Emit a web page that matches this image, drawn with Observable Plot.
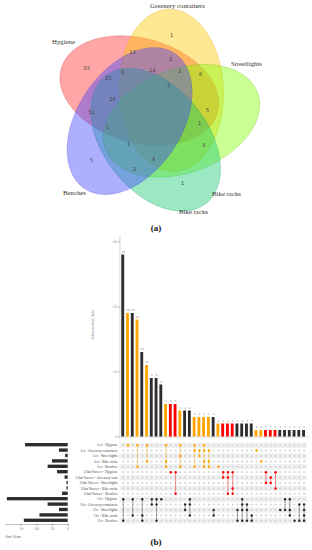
<!DOCTYPE html>
<html><head><meta charset="utf-8">
<script src="https://cdn.jsdelivr.net/npm/d3@7"></script>
<script src="https://cdn.jsdelivr.net/npm/@observablehq/plot@0.6"></script>
<style>
html,body{margin:0;padding:0;background:#fff;}
#root{position:relative;width:312px;height:550px;overflow:hidden;background:#fff;}
#root svg{position:absolute;left:0;}
.cap{position:absolute;left:0;width:312px;text-align:center;font-family:"Liberation Serif",serif;font-weight:bold;font-size:9px;color:#111;z-index:5;}
</style></head><body><div id="root"></div>
<script>
// ---------- DATA ----------
// Venn (a)
const vennSets = ["Hygiene", "Greenery containers", "Streetlights", "Bike racks", "Benches"];
const vennTitles = ["Hygiene", "Greenery containers", "Streetlights", "Bike racks", "Bike racks", "Benches"];
const vennCounts = [33, 13, 1, 2, 2, 6, 14, 8, 25, 1, 26, 51, 5, 1, 1, 1, 3, 5, 4, 2, 1];

// UpSet (b)
const setNames = [
  "1ex - Hygiene", "1ex - Greenery containers", "1ex - Streetlights", "1ex - Bike racks", "1ex - Benches",
  "2.6m Vaceev - Hygiene", "2.6m Vaceev - Greenery cont", "2.6m Vaceev - Streetlights", "2.6m Vaceev - Bike racks", "2.6m Vaceev - Benches",
  "11x - Hygiene", "11x - Greenery containers", "11x - Streetlights", "11x - Bike racks", "11x - Benches"
];
const setSizes = [68, 14, 4, 25, 32, 17, 5, 2, 2, 9, 97, 32, 14, 45, 70];
const interValues = [28, 19, 19, 18, 13, 11, 9, 9, 8, 5, 5, 5, 4, 4, 4, 3, 3, 3, 3, 3, 2, 2, 2, 2, 2, 2, 2, 2, 1, 1, 1, 1, 1, 1, 1, 1, 1, 1, 1];
const interGroups = ["K","O","K","O","K","O","K","K","K","O","R","R","O","K","K","O","O","O","O","K","O","R","R","R","K","K","K","K","O","O","R","R","R","K","K","K","K","K","K"];
const interSets = [
  [11,15],[1],[11,14],[1,5],[11,14,15],[1,4],[11,12],[11,12,15],[11],[1,4,5],
  [6],[6,10],[1,3,5],[12,13],[11,12,14],[1,2,5],[2,3],[1,2,4,5],[2,4,5],[13,14],
  [5],[6,7],[6,7,10],[6,9,10],[13,15],[11,12,13,15],[12,13,15],[14,15],[2],[4],
  [6,8],[7,8],[6,9],[13],[11,13],[11,13,14],[15],[12,15],[12,13,14,15]
];
const yTicks = [0, 10, 20, 30];
const sizeTicks = [75, 50, 25, 0];

// ---------- LAYOUT / STYLE ----------
const groupColor = {K: "#2d2d2d", O: "#FFA500", R: "#FF0000"};
const vennFill = ["#FF2a2a", "#FFC800", "#80FF00", "#14c870", "#4040FF"];
const vennStroke = ["#d04040", "#d8a800", "#70c020", "#20a060", "#5050d0"];
// label anchors inside the Venn drawing frame (px)
const vennCountAnchors = [[86,68],[132,52],[171,35],[170,59],[179,71],[200,74],[152,70],[122,72],[108,78],[168,85],[112,99],[91,112],[207,110],[199,123],[107,127],[128,144],[203,145],[91,160],[153,159],[134,169],[182,183]];
const vennTitleAnchors = [[63,41],[177,5],[246,63],[226,193],[193,211],[74,192]];

const root = document.getElementById("root");
function place(el, top) { el.style.top = top + "px"; root.appendChild(el); }
const transparent = {background: "transparent", overflow: "visible"};

// ---------- (a) VENN ----------
const C = [155, 112], RH = 104, RT = 62, B = 52, OFF = 155, TH0 = 205;
function ellipse(k) {
  const th = (TH0 + 72 * k) * Math.PI / 180, tt = th + OFF * Math.PI / 180;
  const p1 = [C[0] + RH * Math.cos(th), C[1] + RH * Math.sin(th)];
  const p2 = [C[0] + RT * Math.cos(tt), C[1] + RT * Math.sin(tt)];
  const m = [(p1[0] + p2[0]) / 2, (p1[1] + p2[1]) / 2];
  const a = Math.hypot(p1[0] - p2[0], p1[1] - p2[1]) / 2;
  const phi = Math.atan2(p1[1] - p2[1], p1[0] - p2[0]);
  return d3.range(0, 144).map(j => {
    const t = j / 144 * 2 * Math.PI, ex = a * Math.cos(t), ey = B * Math.sin(t);
    return {x: m[0] + ex * Math.cos(phi) - ey * Math.sin(phi), y: m[1] + ex * Math.sin(phi) + ey * Math.cos(phi)};
  });
}
const vennA = Plot.plot({
  width: 312, height: 222, margin: 0,
  style: transparent,
  x: {domain: [0, 312], range: [0, 312], axis: null},
  y: {domain: [0, 222], range: [0, 222], axis: null},
  marks: [
    ...vennSets.map((s, k) => Plot.line(ellipse(k), {x: "x", y: "y", curve: "linear-closed", fill: vennFill[k], fillOpacity: 0.42, stroke: vennStroke[k], strokeOpacity: 0.55, strokeWidth: 0.6})),
    Plot.text(vennCounts.map((v, i) => ({v, x: vennCountAnchors[i][0], y: vennCountAnchors[i][1]})),
      {x: "x", y: "y", text: "v", fontSize: 5, fill: "#444", fontFamily: "DejaVu Sans, sans-serif"}),
    Plot.text(vennTitles.map((t, i) => ({t, x: vennTitleAnchors[i][0], y: vennTitleAnchors[i][1]})),
      {x: "x", y: "y", text: "t", fontSize: 6.8, fill: "#333", fontFamily: "Liberation Serif, serif"})
  ]
});
place(vennA, 0);

const capA = document.createElement("div"); capA.className = "cap"; capA.textContent = "(a)"; capA.style.top = "223px"; root.appendChild(capA);

// ---------- (b) UPSET ----------
const cols = interValues.map((v, i) => ({i: i + 1, v, g: interGroups[i], rows: interSets[i]}));
const xScale = {domain: [0.3, 39.7], axis: null};

const bars = Plot.plot({
  width: 312, height: 212, marginLeft: 119.4, marginRight: 5.1, marginTop: 11.5, marginBottom: 5.5,
  style: transparent,
  x: xScale,
  y: {domain: [0, 30]},
  color: {type: "identity"},
  marks: [
    Plot.ruleY([0], {x1: 0.0, x2: 40.3, stroke: "#bbb", strokeWidth: 0.6}),
    Plot.ruleX([0.3], {y1: 0, y2: 30.9, stroke: "#bbb", strokeWidth: 0.6}),
    Plot.axisY({ticks: yTicks, tickSize: 1.5, tickPadding: 1.5, fontSize: 3.5, color: "#999", label: null, fontFamily: "DejaVu Sans, sans-serif"}),
    Plot.rectY(cols, {x1: d => d.i - 0.3, x2: d => d.i + 0.3, y1: 0, y2: "v", fill: d => groupColor[d.g]}),
    Plot.text(cols, {x: "i", y: "v", text: "v", dy: -2.2, lineAnchor: "bottom", fontSize: 2.6, fill: "#777", fontFamily: "DejaVu Sans, sans-serif"}),
    Plot.text(["Intersection Size"], {frameAnchor: "left", dx: -27, rotate: -90, fontSize: 3.6, fill: "#888", fontFamily: "DejaVu Sans, sans-serif"})
  ]
});
place(bars, 230);

// set sizes
const setData = setSizes.map((s, k) => ({row: k + 1, s}));
const sizes = Plot.plot({
  width: 72, height: 104, marginLeft: 5, marginRight: 4.3, marginTop: 0, marginBottom: 20,
  style: transparent,
  x: {domain: [100, 0], range: [5, 67.7]},
  y: {domain: [1, 15], range: [4.7, 80.3], axis: null},
  marks: [
    Plot.frame({anchor: "bottom", stroke: "#999", strokeWidth: 0.6}),
    Plot.rectX(setData, {x1: 0, x2: "s", y1: d => d.row - 0.31, y2: d => d.row + 0.31, fill: "#2d2d2d"}),
    Plot.axisX({ticks: sizeTicks, tickSize: 1.5, tickPadding: 1, fontSize: 3.5, color: "#777", label: null, fontFamily: "DejaVu Sans, sans-serif"}),
    Plot.text(["Set Size"], {frameAnchor: "bottom-left", dy: 13, textAnchor: "start", fontSize: 3.8, fill: "#555", fontFamily: "DejaVu Sans, sans-serif"})
  ]
});
place(sizes, 440);

// matrix
const allDots = [];
for (const c of cols) for (let r = 1; r <= 15; r++) allDots.push({i: c.i, r});
const members = cols.flatMap(c => c.rows.map(r => ({i: c.i, r, g: c.g})));
const linksData = cols.filter(c => c.rows.length > 1).map(c => ({i: c.i, y1: d3.min(c.rows), y2: d3.max(c.rows), g: c.g}));
const matrix = Plot.plot({
  width: 312, height: 88, marginLeft: 119.4, marginRight: 5.1, marginTop: 0, marginBottom: 3,
  style: transparent,
  x: xScale,
  y: {domain: [1, 15], range: [4.7, 80.3]},
  color: {type: "identity"},
  marks: [
    Plot.ruleY(d3.range(1, 16).filter(r => r % 2 === 1), {y: d => d, stroke: "#f0f0f0", strokeWidth: 5.4}),
    Plot.dot(allDots, {x: "i", y: "r", r: 1.15, fill: "#d8d8d8"}),
    Plot.link(linksData, {x1: "i", x2: "i", y1: "y1", y2: "y2", stroke: d => groupColor[d.g], strokeOpacity: 0.55, strokeWidth: 0.8}),
    Plot.dot(members, {x: "i", y: "r", r: 1.25, fill: d => groupColor[d.g]}),
    Plot.axisY({ticks: d3.range(1, 16), tickFormat: r => setNames[r - 1], tickSize: 0, tickPadding: 2.5, fontSize: 3.6, color: "#444", label: null, fontFamily: "Liberation Serif, serif"})
  ]
});
place(matrix, 440);

const capB = document.createElement("div"); capB.className = "cap"; capB.textContent = "(b)"; capB.style.top = "537px"; root.appendChild(capB);
</script></body></html>
